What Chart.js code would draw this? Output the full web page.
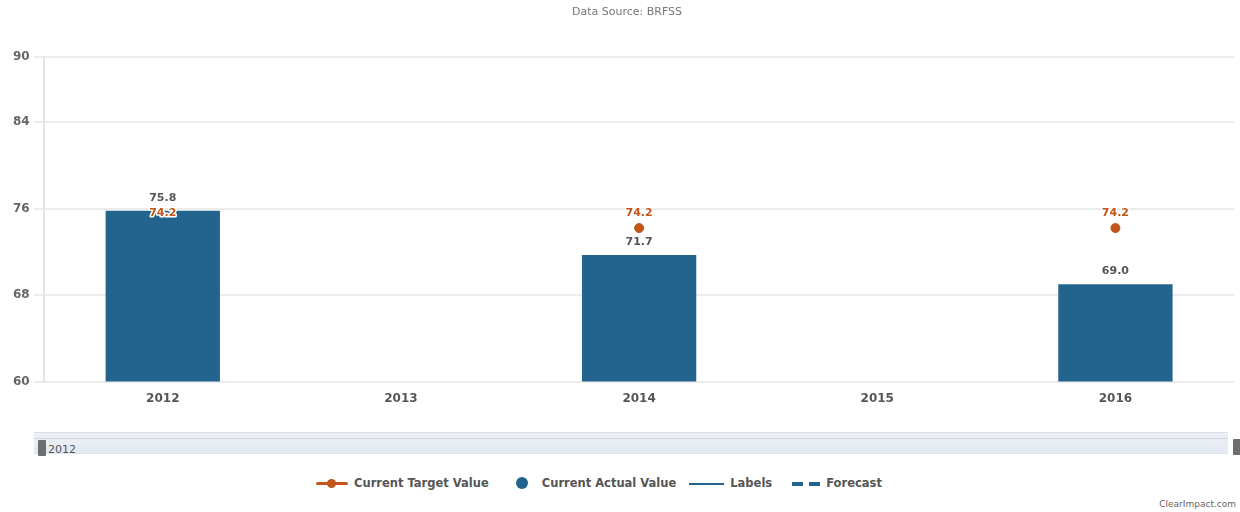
<!DOCTYPE html>
<html>
<head>
<meta charset="utf-8">
<script src="https://cdn.jsdelivr.net/npm/chart.js@4/dist/chart.umd.min.js"></script>
<style>
  html, body { margin: 0; padding: 0; background: #fff; width: 1240px; height: 512px; overflow: hidden; font-family: "DejaVu Sans", sans-serif; }
  #wrap { position: absolute; left: 0; top: 0; width: 1240px; height: 420px; }
  #nav { position: absolute; left: 34px; top: 432px; width: 1194px; height: 20px; background: linear-gradient(#edf1f6, #e3e9f1); border-top: 1px solid #d9e0ea; border-bottom: 1px solid #dde3eb; }
  #nav .ln { position: absolute; left: 0; right: 0; top: 5px; height: 1px; background: #cdd6e2; }
  .handle { position: absolute; width: 8px; height: 16px; background: #6e6e6e; border-radius: 1px; }
  #navlbl { position: absolute; left: 48px; top: 443px; font-size: 11px; color: #555; }
  #legend { position: absolute; left: 316px; top: 474px; height: 18px; display: flex; align-items: center; font-size: 11.5px; font-weight: bold; color: #555; white-space: nowrap; }
  .item { display: flex; align-items: center; margin-right: 20px; }
  .sym { position: relative; height: 12px; margin-right: 6px; }
  #credit { position: absolute; right: 4px; top: 499px; font-size: 9px; color: #666; }
</style>
</head>
<body>
<div id="wrap"><canvas id="c" width="1240" height="420"></canvas></div>
<div id="nav"><div class="ln"></div></div>
<div class="handle" style="left:38px; top:440px;"></div>
<div class="handle" style="left:1233px; top:439px;"></div>
<div id="navlbl">2012</div>
<div id="legend">
  <div class="item" style="margin-right:14px;">
    <div class="sym" style="width:32px;">
      <div style="position:absolute;left:0;top:5px;width:32px;height:3px;background:#c0561a;border-radius:2px;"></div>
      <div style="position:absolute;left:11px;top:2px;width:9px;height:9px;background:#c0561a;border-radius:50%;"></div>
    </div>
    <span>Current Target Value</span>
  </div>
  <div class="item" style="margin-left:12px; margin-right:13px;">
    <div class="sym" style="width:14px;margin-right:13px;">
      <div style="position:absolute;left:1px;top:0;width:12px;height:12px;background:#22648e;border-radius:50%;"></div>
    </div>
    <span>Current Actual Value</span>
  </div>
  <div class="item" style="margin-right:20px;">
    <div class="sym" style="width:35px;">
      <div style="position:absolute;left:0;top:6px;width:35px;height:2px;background:#22648e;"></div>
    </div>
    <span>Labels</span>
  </div>
  <div class="item">
    <div class="sym" style="width:28px;">
      <div style="position:absolute;left:0;top:5px;width:11px;height:4px;background:#22648e;"></div>
      <div style="position:absolute;left:17px;top:5px;width:11px;height:4px;background:#22648e;"></div>
    </div>
    <span>Forecast</span>
  </div>
</div>
<div id="credit">ClearImpact.com</div>
<script>
const years = ['2012', '2013', '2014', '2015', '2016'];
const actualValues = [75.8, null, 71.7, null, 69.0];
const targetValues = [74.2, null, 74.2, null, 74.2];
const yTickValues = [60, 68, 76, 84, 90];
const chartTitle = 'Data Source: BRFSS';

const barColor = '#22648e';
const targetColor = '#c0561a';

const valueLabels = {
  id: 'valueLabels',
  afterDatasetsDraw(chart) {
    const ctx = chart.ctx;
    ctx.save();
    ctx.font = 'bold 11px "DejaVu Sans"';
    ctx.textAlign = 'center';
    ctx.textBaseline = 'middle';
    ctx.lineJoin = 'round';
    chart.data.datasets.forEach((ds, di) => {
      const meta = chart.getDatasetMeta(di);
      meta.data.forEach((el, i) => {
        const v = ds.data[i];
        if (v === null || v === undefined) return;
        const txt = v.toFixed(1);
        const y = ds.type === 'bar' ? el.y - 13 : el.y - 15;
        ctx.lineWidth = 3;
        ctx.strokeStyle = '#ffffff';
        ctx.strokeText(txt, el.x, y);
        ctx.fillStyle = ds.type === 'bar' ? '#555555' : targetColor;
        ctx.fillText(txt, el.x, y);
      });
    });
    ctx.restore();
  }
};

new Chart(document.getElementById('c'), {
  data: {
    labels: years,
    datasets: [
      {
        type: 'line',
        label: 'Current Target Value',
        data: targetValues,
        showLine: false,
        pointRadius: 4.5,
        pointHoverRadius: 4.5,
        pointBackgroundColor: targetColor,
        pointBorderColor: targetColor,
        borderColor: targetColor,
        order: 2
      },
      {
        type: 'bar',
        label: 'Current Actual Value',
        data: actualValues,
        backgroundColor: barColor,
        borderWidth: 0,
        categoryPercentage: 1.0,
        barPercentage: 0.48,
        order: 1
      }
    ]
  },
  options: {
    responsive: false,
    animation: false,
    devicePixelRatio: 1,
    layout: { padding: { left: 9, right: -5, top: 0, bottom: 4 } },
    plugins: {
      legend: { display: false },
      tooltip: { enabled: false },
      title: {
        display: true,
        text: chartTitle,
        color: '#777',
        font: { family: 'DejaVu Sans', size: 11, weight: 'normal' },
        padding: { top: 6, bottom: 38 }
      }
    },
    scales: {
      x: {
        grid: { display: false, drawTicks: false },
        border: { display: false },
        ticks: { color: '#555', font: { family: 'DejaVu Sans', size: 12, weight: 'bold' }, padding: 10 }
      },
      y: {
        min: 60,
        max: 90,
        afterBuildTicks(axis) { axis.ticks = yTickValues.map(v => ({ value: v })); },
        grid: { color: '#ececec', lineWidth: 2, drawTicks: true, tickLength: 10, tickColor: '#ececec' },
        border: { display: true, color: '#e4e4e4', width: 2 },
        ticks: { color: '#666', font: { family: 'DejaVu Sans', size: 12, weight: 'bold' }, padding: 4 }
      }
    }
  },
  plugins: [valueLabels]
});
</script>
</body>
</html>
